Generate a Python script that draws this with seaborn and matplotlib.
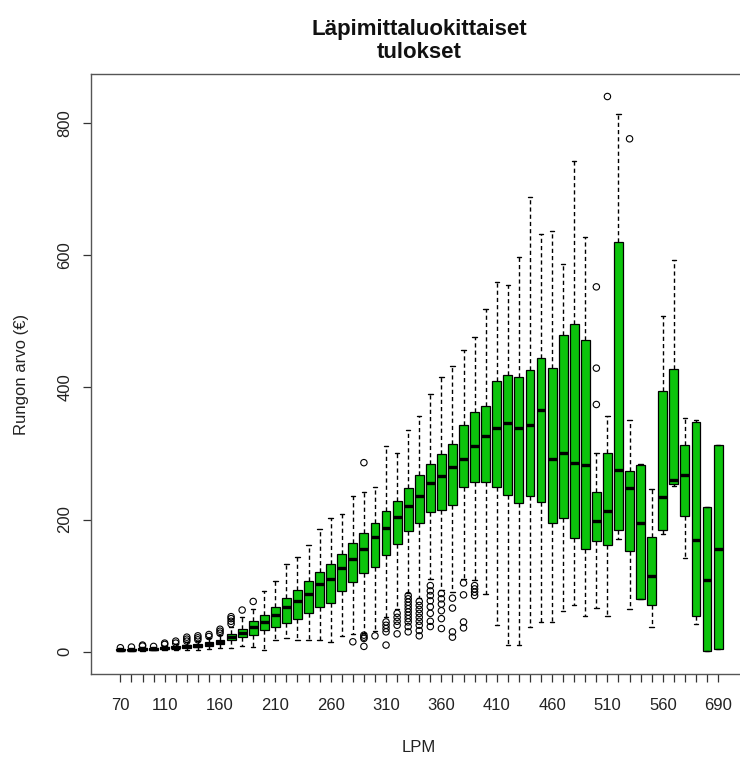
import numpy as np
import pandas as pd
import matplotlib
matplotlib.use("Agg")
import matplotlib.pyplot as plt
import seaborn as sns

# ---- data ----
lpm_classes = [70, 80, 90, 100, 110, 120, 130, 140, 150, 160,
               170, 180, 190, 200, 210, 220, 230, 240, 250, 260,
               270, 280, 290, 300, 310, 320, 330, 340, 350, 360,
               370, 380, 390, 400, 410, 420, 430, 440, 450, 460,
               470, 480, 490, 500, 510, 520, 530, 540, 550, 560,
               570, 580, 590, 620, 690]
whisker_low = [1, 1, 1, 2, 2, 2, 3, 3, 4, 6,
               5, 9, 7, 3, 18, 20, 17, 17, 17, 14,
               23, 27, 29, 31, 52, 64, 89, 81, 110, 94,
               90, 110, 108, 88, 41, 10, 10, 38, 45, 45,
               62, 70, 54, 66, 54, 171, 65, 80, 37, 178,
               250, 142, 42, 1, 4]
q1 = [2, 2, 3, 3, 4, 5, 6, 7, 9, 12,
      17, 22, 25, 33, 38, 44, 49, 58, 68, 74,
      92, 106, 119, 128, 146, 163, 183, 194, 212, 215,
      222, 249, 256, 256, 249, 237, 225, 235, 227, 194,
      203, 172, 155, 168, 162, 184, 153, 80, 70, 184,
      253, 206, 54, 1, 4]
median = [3, 3, 4, 4, 5, 6, 8, 9, 11, 15,
          22, 29, 37, 45, 56, 67, 76, 87, 102, 110,
          126, 140, 156, 173, 187, 204, 220, 235, 255, 266,
          280, 291, 311, 326, 338, 346, 338, 343, 365, 291,
          301, 285, 282, 197, 213, 275, 248, 194, 114, 234,
          260, 268, 169, 109, 156]
q3 = [4, 4, 5, 5, 6.5, 8, 10, 11, 14, 18,
      27, 35, 47, 55, 67, 81, 93, 107, 121, 132,
      148, 164, 180, 195, 213, 228, 248, 268, 284, 299,
      314, 343, 362, 371, 409, 419, 416, 426, 445, 429,
      479, 496, 471, 242, 300, 620, 274, 282, 174, 394,
      427, 313, 347, 219, 312]
whisker_high = [5, 5.5, 7, 7, 9, 11, 14, 16, 20, 25,
                38, 53, 64, 92, 107, 133, 144, 161, 185, 202,
                209, 235, 241, 249, 311, 300, 335, 357, 390, 416,
                432, 457, 476, 518, 560, 555, 597, 688, 632, 636,
                587, 742, 627, 300, 356, 813, 350, 284, 246, 508,
                593, 353, 350, 219, 312]
outlier_values = [[6], [7], [8.5, 10], [8], [11, 13], [13, 16], [16, 19, 22],
                  [18, 21, 24], [23, 26], [28, 31, 34],
                  [42, 46, 50, 53], [63], [76], [], [], [], [], [], [], [],
                  [], [15], [286, 25, 22, 20, 8], [24], [45, 40, 35, 30, 10],
                  [58, 52, 46, 40, 27],
                  [85, 80, 75, 70, 65, 60, 55, 50, 45, 38, 30],
                  [76, 70, 64, 58, 52, 46, 40, 32, 24],
                  [100, 92, 85, 77, 68, 58, 46, 38],
                  [88, 80, 72, 62, 50, 35],
                  [81, 66, 30, 22], [104, 86, 45, 36], [100, 95, 90, 85],
                  [], [], [], [], [], [], [],
                  [], [], [], [552, 429, 374], [840], [], [776], [], [], [],
                  [], [], [], [], []]
shown_tick_labels = [70, 110, 160, 210, 260, 310, 360, 410, 460, 510, 560, 690]

title_text = "Läpimittaluokittaiset\ntulokset"
x_title = "LPM"
y_title = "Rungon arvo (€)"

# ---- tables ----
cat_labels = [str(c) for c in lpm_classes]
rows = []
for lab, lo, a, m, b, hi in zip(cat_labels, whisker_low, q1, median, q3, whisker_high):
    for v in (lo, a, m, b, hi):
        rows.append({"LPM": lab, "value": v})
box_df = pd.DataFrame(rows)
out_rows = []
for lab, outs in zip(cat_labels, outlier_values):
    for v in outs:
        out_rows.append({"LPM": lab, "value": v})
out_df = pd.DataFrame(out_rows)

# ---- style ----
sns.set_theme(style="white")
plt.rcParams["font.family"] = ["Liberation Sans", "DejaVu Sans"]

W, H = 740, 758
fig = plt.figure(figsize=(W / 100, H / 100), dpi=100)
left, right, top, bottom = 90.5, 748.0, 74.3, 673.9
ax = fig.add_axes([left / W, 1 - bottom / H, (right - left) / W, (bottom - top) / H])

green = "#0CC40C"
sns.boxplot(data=box_df, x="LPM", y="value", order=cat_labels, whis=np.inf,
            width=0.8, color=green, saturation=1, linecolor="black",
            linewidth=0.9, fliersize=0,
            medianprops=dict(linewidth=2.4, color="black"),
            whiskerprops=dict(linestyle=(0, (3, 2.2)), linewidth=1.0),
            capprops=dict(linewidth=1.0),
            ax=ax)
sns.stripplot(data=out_df, x="LPM", y="value", order=cat_labels, jitter=False,
              marker="o", size=4.6, color="black", facecolors="none",
              edgecolor="black", linewidth=0.8, ax=ax)

ax.set_xlim(-2.7, len(cat_labels) - 1 + 2.7)
ax.set_ylim(-33.6, 873.6)
ax.set_xticks(range(len(cat_labels)))
ax.set_xticklabels([lab if int(lab) in shown_tick_labels else "" for lab in cat_labels])
ax.set_yticks([0, 200, 400, 600, 800])
ax.set_xlabel("")
ax.set_ylabel("")
ax.tick_params(axis="both", direction="out", length=6, width=0.9, color="#333333",
               labelsize=12, labelcolor="#222222", bottom=True, left=True)
ax.tick_params(axis="x", pad=11)
ax.tick_params(axis="y", pad=7)
plt.setp(ax.get_yticklabels(), rotation=90, va="center")
for s in ax.spines.values():
    s.set_visible(True)
    s.set_color("#555555")
    s.set_linewidth(1.0)

cx = (left + right) / 2 / W
fig.text(cx, 1 - 41 / H, title_text, ha="center", va="center", fontsize=16,
         fontweight="bold", linespacing=1.1, color="#111111")
fig.text(cx, 1 - 748 / H, x_title, ha="center", va="center", fontsize=12, color="#222222")
fig.text(22 / W, 1 - 374 / H, y_title, ha="center", va="center", rotation=90,
         fontsize=12, color="#222222")

fig.savefig("out.png", dpi=100, facecolor="white")
